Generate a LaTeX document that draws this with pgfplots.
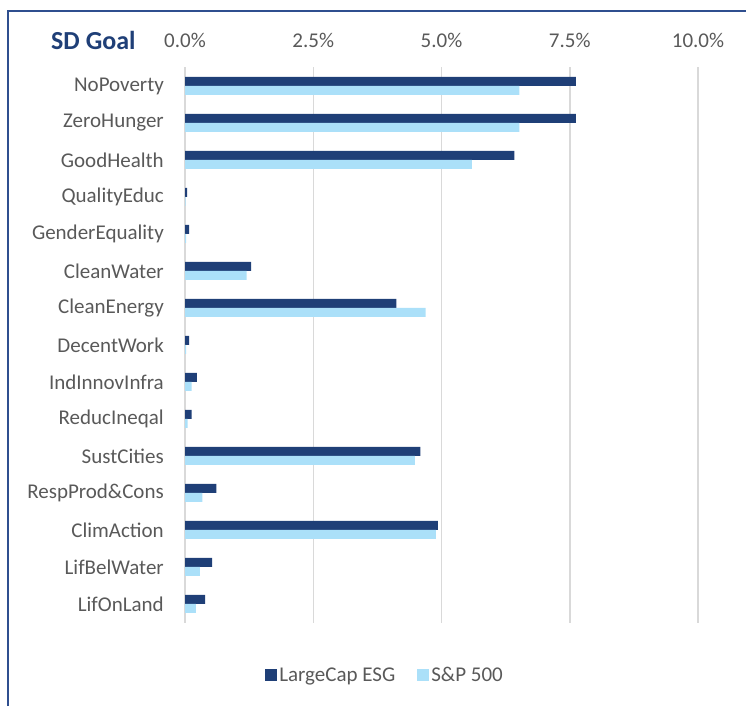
\documentclass[border=0pt]{standalone}
\usepackage{pgfplots}
\pgfplotsset{compat=1.18}
\usepackage{fontspec}
\setmainfont{Carlito}
\definecolor{darkc}{HTML}{1F3F77}
\definecolor{lightc}{HTML}{ABE0F9}
\definecolor{txt}{HTML}{595959}
\definecolor{gridc}{HTML}{D9D9D9}
\definecolor{framec}{HTML}{2F4F8F}
\begin{document}
\begin{tikzpicture}[x=1pt,y=1pt]
\useasboundingbox (0,0) rectangle (746,706);
\draw[framec, line width=1.5pt] (8,0) -- (8,695) -- (746,695);
\node[anchor=west, inner sep=0pt, text=darkc, font=\fontsize{26}{30}\selectfont\bfseries] at (51,666) {SD Goal};
\begin{axis}[
  at={(185pt,83.5pt)}, anchor=south west,
  width=513pt, height=555pt, scale only axis,
  xbar, bar width=9pt,
  xmin=0, xmax=10, ymin=-0.5, ymax=14.5,
  xtick={0,2.5,5,7.5,10},
  xticklabels={0.0\%,2.5\%,5.0\%,7.5\%,10.0\%},
  xticklabel pos=upper,
  ytick={0,...,14},
  yticklabels={LifOnLand,LifBelWater,ClimAction,RespProd\&Cons,SustCities,ReducIneqal,IndInnovInfra,DecentWork,CleanEnergy,CleanWater,GenderEquality,QualityEduc,GoodHealth,ZeroHunger,NoPoverty},
  axis line style={draw=none},
  major tick length=0pt,
  xmajorgrids, major grid style={gridc, line width=1.5pt},
  ticklabel style={font=\fontsize{21}{25}\selectfont, text=txt, inner sep=0pt},
  /pgf/number format/assume math mode=true,
  xticklabel shift=20pt, yticklabel shift=21pt,
  legend style={at={(0.39,-0.0946)}, anchor=center, draw=none, fill=none,
    font=\fontsize{21}{25}\selectfont, text=txt,
    /tikz/every even column/.append style={column sep=20pt}},
  legend columns=2,
  legend image code/.code={\fill[#1,draw=none] (0pt,-6pt) rectangle (12pt,6pt);},
]
\addplot[fill=darkc, draw=none, bar shift=4.5pt] coordinates {
(0.39,0) (0.53,1) (4.93,2) (0.61,3) (4.59,4) (0.13,5) (0.23,6) (0.08,7)
(4.12,8) (1.29,9) (0.08,10) (0.04,11) (6.42,12) (7.62,13) (7.62,14)};
\addplot[fill=lightc, draw=none, bar shift=-4.5pt] coordinates {
(0.21,0) (0.29,1) (4.89,2) (0.34,3) (4.48,4) (0.05,5) (0.13,6) (0.02,7)
(4.69,8) (1.20,9) (0.02,10) (0.01,11) (5.59,12) (6.52,13) (6.52,14)};
\legend{LargeCap ESG, S\&P 500}
\end{axis}
\end{tikzpicture}
\end{document}
